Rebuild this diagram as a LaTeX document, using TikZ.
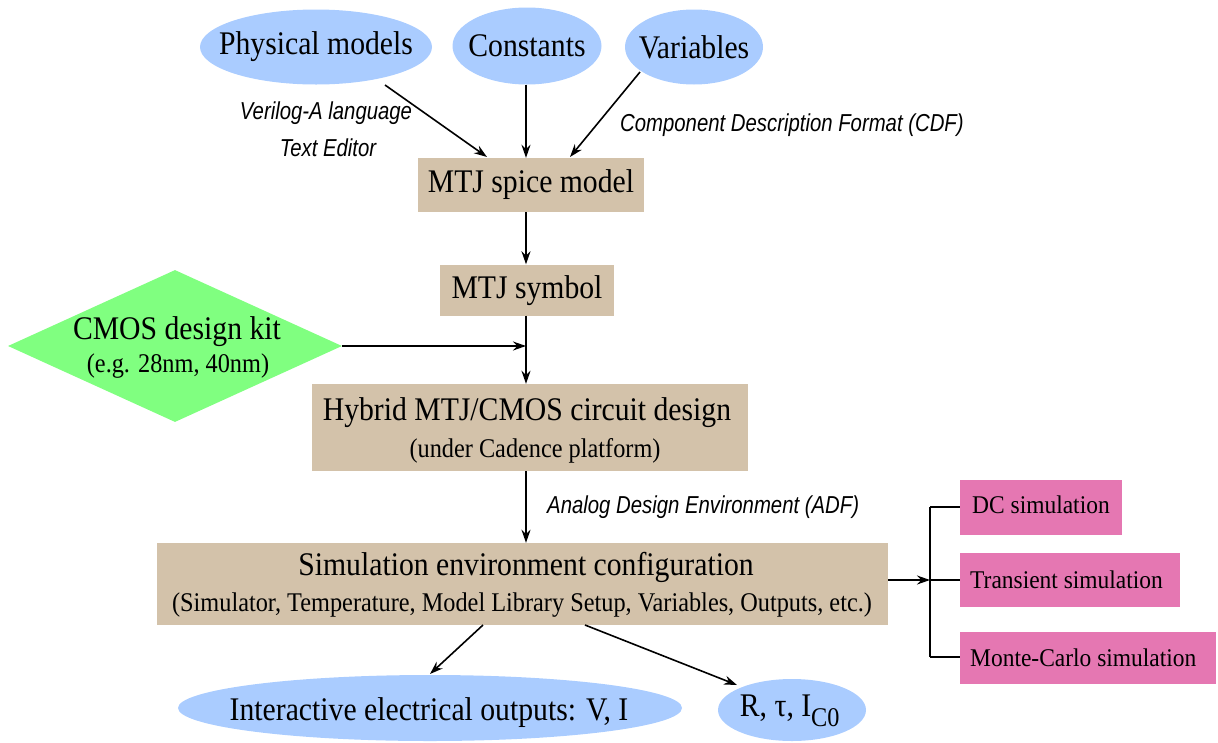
\documentclass[tikz,border=0pt]{standalone}
\usepackage{fontspec}
\setmainfont[FakeStretch=0.9]{Liberation Serif}
\newfontfamily\pinkfont[FakeStretch=0.92]{Liberation Serif}
\newfontfamily\lblfont[FakeStretch=0.83]{Liberation Sans}
\usetikzlibrary{shapes.geometric,arrows.meta}
\definecolor{ellblue}{RGB}{170,204,255}
\definecolor{tanbox}{RGB}{211,194,170}
\definecolor{pinkbox}{RGB}{229,119,178}
\definecolor{kitgreen}{RGB}{128,255,128}
\tikzset{
  ell/.style={ellipse, fill=ellblue, inner sep=0pt},
  big/.style={font=\fontsize{33}{36}\selectfont, inner sep=0pt},
  sub/.style={font=\fontsize{27}{30}\selectfont, inner sep=0pt},
  tbox/.style={fill=tanbox, inner sep=0pt},
  pbox/.style={fill=pinkbox, inner sep=0pt, font=\pinkfont\fontsize{25.5}{28}\selectfont},
  lbl/.style={font=\lblfont\itshape\fontsize{24.5}{26}\selectfont, inner sep=0pt},
  arr/.style={-{Stealth[length=13pt,width=9pt]}, line width=1.6pt},
  ln/.style={line width=1.6pt}
}
\begin{document}
\begin{tikzpicture}[x=1pt,y=-1pt]
\useasboundingbox (0,0) rectangle (1218,742);
% top ellipses
\node[ell, minimum width=232, minimum height=75] (phys) at (316,47) {};
\node[big] (physt) at (316,47) {Physical models};
\node[ell, minimum width=149, minimum height=77] (const) at (527,46) {};
\node[big] (constt) at (527,46) {Constants};
\node[ell, minimum width=138, minimum height=75] (vars) at (694,47) {};
\node[big] (varst) at (694,47) {Variables};
% boxes
\node[tbox, minimum width=226, minimum height=54] (spice) at (531,185) {};
\node[big] (spicet) at (531,185) {MTJ spice model};
\node[tbox, minimum width=174, minimum height=51] (sym) at (527,290) {};
\node[big] (symt) at (527,291) {MTJ symbol};
\node[diamond, fill=kitgreen, minimum width=334, minimum height=152, inner sep=0pt, aspect=2.2] (kit) at (175,346) {};
\node[big] (kitt) at (177,332) {CMOS design kit};
\node[sub] (kits) at (178,366) {(e.g. 28nm, 40nm)};
\node[tbox, minimum width=436, minimum height=87] (hyb) at (530,427.5) {};
\node[big] (hybt) at (527,413) {Hybrid MTJ/CMOS circuit design};
\node[sub] (hybs) at (535,451) {(under Cadence platform)};
\node[tbox, minimum width=731, minimum height=82] (sim) at (522.5,584) {};
\node[big] (simt) at (526,567) {Simulation environment configuration};
\node[sub] (sims) at (522,605) {(Simulator, Temperature, Model Library Setup, Variables, Outputs, etc.)};
% pink boxes
\node[pbox, minimum width=162, minimum height=55] (dc) at (1041,507.5) {};
\node[pbox, anchor=west] (dct) at (972,505) {DC simulation};
\node[pbox, minimum width=220, minimum height=54] (tr) at (1070,580) {};
\node[pbox, anchor=west] (trt) at (970,580) {Transient simulation};
\node[pbox, minimum width=256, minimum height=52] (mc) at (1088,658) {};
\node[pbox, anchor=west] (mct) at (970,658) {Monte-Carlo simulation};
% bottom ellipses
\node[ell, minimum width=504, minimum height=66] (inter) at (430,708) {};
\node[big] (intert) at (429,713) {Interactive electrical outputs: V, I};
\node[ell, minimum width=148, minimum height=62] (rt) at (792,710) {};
\node[big] (rtt) at (790,711) {R, τ, I\textsubscript{\fontsize{27}{27}\selectfont C0}};
% labels
\node[lbl] (l1) at (326,113) {Verilog-A language};
\node[lbl] (l2) at (328,148) {Text Editor};
\node[lbl, anchor=west] (l3) at (620,125) {Component Description Format (CDF)};
\node[lbl, anchor=west] (l4) at (547,507) {Analog Design Environment (ADF)};
% coordinates
\coordinate (pA) at (385,85);
\coordinate (pB) at (487,157);
\coordinate (vA) at (640,72);
\coordinate (vB) at (570,157);
\coordinate (junc) at (526,346);
\coordinate (br) at (930,580);
\coordinate (brT) at (930,507);
\coordinate (brB) at (930,657);
% connectors
\draw[arr] (pA) -- (pB);
\draw[arr] (const.south -| 526,0) -- (spice.north -| 526,0);
\draw[arr] (vA) -- (vB);
\draw[arr] (spice.south -| 526,0) -- (sym.north -| 526,0);
\draw[ln] (sym.south -| 526,0) -- (junc);
\draw[arr] (junc) -- (hyb.north -| 526,0);
\draw[arr] (kit.east) -- (junc);
\draw[arr] (hyb.south -| 526,0) -- (sim.north -| 526,0);
\draw[arr] (sim.east |- br) -- (br);
\draw[ln] (brT) -- (brB);
\draw[ln] (brT) -- (dc.west |- brT);
\draw[ln] (br) -- (tr.west |- br);
\draw[ln] (brB) -- (mc.west |- brB);
\draw[arr] (483,625) -- (430,674);
\draw[arr] (585,625) -- (737,685);
\end{tikzpicture}
\end{document}
